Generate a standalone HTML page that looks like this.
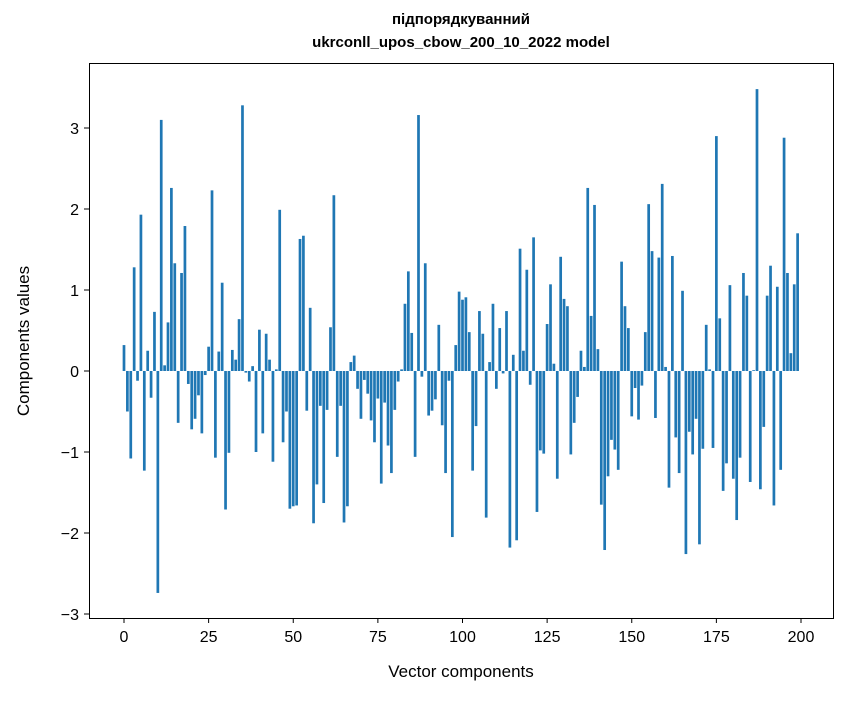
<!DOCTYPE html>
<html><head><meta charset="utf-8"><style>
body{margin:0;background:#fff;}
svg text{font-family:"Liberation Sans","DejaVu Sans",sans-serif;}
</style></head><body>
<svg id="chart" width="847" height="696" xmlns="http://www.w3.org/2000/svg">
<rect width="847" height="696" fill="#fff"/>
<text x="461" y="24" text-anchor="middle" font-size="15" font-weight="bold">підпорядкуванний</text>
<text x="461" y="47" text-anchor="middle" font-size="15" font-weight="bold">ukrconll_upos_cbow_200_10_2022 model</text>
<g id="bars"></g>
<g id="axes"></g>
<rect x="89.5" y="63.5" width="744" height="555" fill="none" stroke="#000" stroke-width="1"/>
<text x="461" y="677" text-anchor="middle" font-size="17">Vector components</text>
<text x="29" y="341" text-anchor="middle" font-size="17" transform="rotate(-90 29 341)">Components values</text>
</svg>
<script>
const values = [0.32,-0.50,-1.08,1.28,-0.12,1.93,-1.23,0.25,-0.33,0.73,-2.74,3.10,0.07,0.60,2.26,1.33,-0.64,1.21,1.79,-0.16,-0.72,-0.59,-0.30,-0.77,-0.05,0.30,2.23,-1.07,0.24,1.09,-1.71,-1.01,0.26,0.14,0.64,3.28,-0.02,-0.13,0.06,-1.00,0.51,-0.77,0.46,0.14,-1.12,0.02,1.99,-0.88,-0.50,-1.70,-1.67,-1.66,1.63,1.67,-0.49,0.78,-1.88,-1.40,-0.43,-1.63,-0.48,0.54,2.17,-1.06,-0.43,-1.87,-1.67,0.11,0.19,-0.22,-0.59,-0.11,-0.28,-0.61,-0.88,-0.34,-1.39,-0.39,-0.92,-1.26,-0.48,-0.13,0.02,0.83,1.23,0.47,-1.06,3.16,-0.07,1.33,-0.55,-0.49,-0.35,0.57,-0.67,-1.26,-0.12,-2.05,0.32,0.98,0.88,0.91,0.48,-1.23,-0.68,0.74,0.46,-1.81,0.11,0.83,-0.22,0.53,-0.03,0.74,-2.18,0.20,-2.09,1.51,0.25,1.25,-0.17,1.65,-1.74,-0.98,-1.02,0.58,1.07,0.09,-1.33,1.41,0.89,0.80,-1.03,-0.64,-0.32,0.25,0.05,2.26,0.68,2.05,0.27,-1.65,-2.21,-1.30,-0.85,-0.97,-1.22,1.35,0.80,0.53,-0.56,-0.21,-0.60,-0.18,0.48,2.06,1.48,-0.58,1.40,2.31,0.05,-1.44,1.42,-0.82,-1.26,0.99,-2.26,-0.75,-1.03,-0.59,-2.14,-0.96,0.57,0.02,-0.95,2.90,0.65,-1.48,-1.14,1.06,-1.33,-1.84,-1.07,1.21,0.93,-1.37,0.01,3.48,-1.46,-0.69,0.93,1.30,-1.66,1.04,-1.22,2.88,1.21,0.22,1.07,1.70];
const xTicks = [0,25,50,75,100,125,150,175,200];
const yTicks = [-3,-2,-1,0,1,2,3];
const NS = "http://www.w3.org/2000/svg";
function xScale(v){return 124 + v*(801-124)/200;}
function yScale(v){return 371 - v*81;}
const barsG = document.getElementById('bars');
const bw = 0.8*(801-124)/200;
values.forEach((v,i)=>{
  const r = document.createElementNS(NS,'rect');
  const y0 = yScale(0), y1 = yScale(v);
  r.setAttribute('x', xScale(i)-bw/2);
  r.setAttribute('y', Math.min(y0,y1));
  r.setAttribute('width', bw);
  r.setAttribute('height', Math.max(Math.abs(y1-y0),0.3));
  r.setAttribute('fill', '#1f77b4');
  
  
  barsG.appendChild(r);
});
const axes = document.getElementById('axes');
xTicks.forEach(t=>{
  const x = xScale(t);
  const l = document.createElementNS(NS,'line');
  l.setAttribute('x1',x);l.setAttribute('x2',x);l.setAttribute('y1',618);l.setAttribute('y2',623);
  l.setAttribute('stroke','#000');
  
  
  axes.appendChild(l);
  const tx = document.createElementNS(NS,'text');
  tx.setAttribute('x',x);tx.setAttribute('y',642);tx.setAttribute('text-anchor','middle');tx.setAttribute('font-size','16');
  tx.textContent = t;
  
  
  axes.appendChild(tx);
});
yTicks.forEach(t=>{
  const y = yScale(t);
  const l = document.createElementNS(NS,'line');
  l.setAttribute('x1',84);l.setAttribute('x2',89);l.setAttribute('y1',y);l.setAttribute('y2',y);
  l.setAttribute('stroke','#000');
  
  
  axes.appendChild(l);
  const tx = document.createElementNS(NS,'text');
  tx.setAttribute('x',79);tx.setAttribute('y',y+6);tx.setAttribute('text-anchor','end');tx.setAttribute('font-size','16');
  tx.textContent = t<0 ? '\u2212'+Math.abs(t) : String(t);
  
  
  axes.appendChild(tx);
});
</script>
</body></html>
